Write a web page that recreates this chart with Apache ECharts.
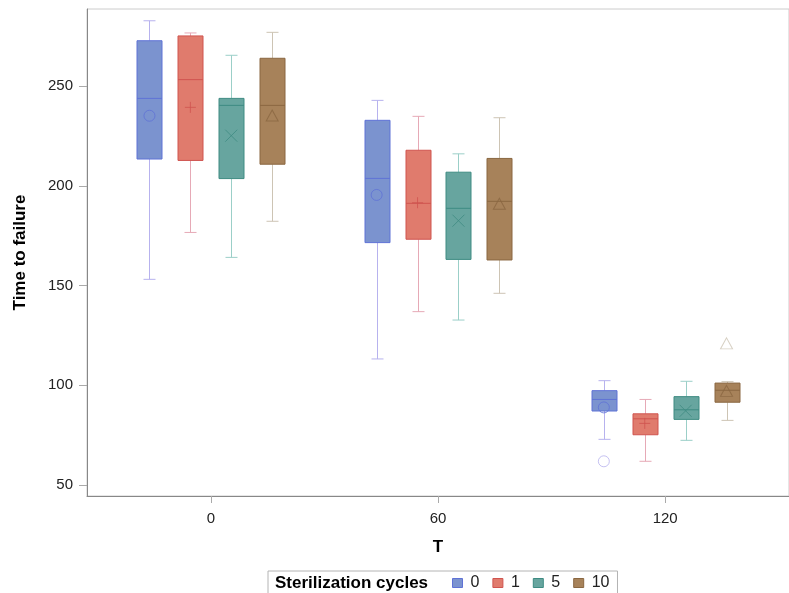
<!DOCTYPE html>
<html>
<head>
<meta charset="utf-8">
<script src="https://cdn.jsdelivr.net/npm/echarts@6/dist/echarts.min.js"></script>
<style>
html,body{margin:0;padding:0;background:#fff;}
#chart{width:789px;height:593px;}
</style>
</head>
<body>
<div id="chart"></div>
<script>
// ---- data ----
const categories = ['0', '60', '120'];          // T
const cycles = ['0', '1', '5', '10'];           // Sterilization cycles
const yTicks = [50, 100, 150, 200, 250];

// [min, Q1, median, Q3, max] per T for each cycle
const stats0  = [[153.1, 213.4, 243.8, 272.7, 282.7], [113.2, 171.5, 203.7, 232.8, 242.8], [72.9, 87.1, 92.9, 97.3, 102.3]];
const stats1  = [[176.6, 212.7, 253.2, 275.1, 276.6], [136.9, 173.2, 191.2, 217.8, 234.8], [61.9, 75.2, 83.2, 85.7, 92.9]];
const stats5  = [[164.1, 203.6, 240.3, 243.8, 265.4], [132.7, 163.1, 188.7, 206.8, 216.0], [72.4, 82.9, 87.7, 94.3, 102.0]];
const stats10 = [[182.2, 210.8, 240.3, 263.9, 276.9], [146.1, 162.8, 192.2, 213.7, 234.1], [82.4, 91.5, 97.5, 101.1, 101.8]];

const means0  = [235.1, 195.4, 88.9];
const means1  = [239.3, 191.5, 80.9];
const means5  = [225.1, 182.5, 87.2];
const means10 = [235.2, 191.0, 97.2];

// outliers: [category index, value]
const outliers0  = [[2, 61.9]];
const outliers1  = [];
const outliers5  = [];
const outliers10 = [[2, 121.0]];

// ---- styling ----
const allStats = [stats0, stats1, stats5, stats10];
const allMeans = [means0, means1, means5, means10];
const allOutliers = [outliers0, outliers1, outliers5, outliers10];
const fills    = ['#7b93cf', '#e07b6d', '#67a59f', '#a7825a'];
const lines    = ['#5f72d6', '#d0544f', '#3e8b82', '#8a6741'];
const whiskers = ['#b7b2ee', '#e6a9b6', '#9bcfc8', '#cdc4b4'];
const symbols  = ['circle', 'path://M5,0L5,10M0,5L10,5', 'path://M0,0L10,10M10,0L0,10', 'triangle'];
const symSizes = [11, 11, 12, [12, 11]];
const BOX_W = 25, CAP_W = 12, SPACING = 40.9;
const FONT = 'Arial, "Liberation Sans", Helvetica, sans-serif';

function offsetOf(k) { return (k - 1.5) * SPACING; }

function makeRender(k) {
  return function (params, api) {
    const i = api.value(0);
    const off = offsetOf(k);
    const cx = Math.round(api.coord([i, api.value(3)])[0] + off) + 0.5;
    const y = j => api.coord([i, api.value(j)])[1];
    const yMin = y(1), yQ1 = y(2), yMed = y(3), yQ3 = y(4), yMax = y(5);
    const hw = BOX_W / 2, cw = CAP_W / 2;
    const ws = { stroke: whiskers[k], lineWidth: 1 };
    return {
      type: 'group',
      children: [
        { type: 'line', shape: { x1: cx, y1: yQ3, x2: cx, y2: yMax }, style: ws },
        { type: 'line', shape: { x1: cx - cw, y1: yMax, x2: cx + cw, y2: yMax }, style: ws },
        { type: 'line', shape: { x1: cx, y1: yQ1, x2: cx, y2: yMin }, style: ws },
        { type: 'line', shape: { x1: cx - cw, y1: yMin, x2: cx + cw, y2: yMin }, style: ws },
        { type: 'rect', shape: { x: cx - hw, y: yQ3, width: BOX_W, height: yQ1 - yQ3 },
          style: { fill: fills[k], stroke: lines[k], lineWidth: 1 } },
        { type: 'line', shape: { x1: cx - hw, y1: yMed, x2: cx + hw, y2: yMed },
          style: { stroke: lines[k], lineWidth: 1 } }
      ]
    };
  };
}

const series = [];
cycles.forEach((name, k) => {
  series.push({
    name: name,
    type: 'custom',
    renderItem: makeRender(k),
    encode: { x: 0, y: [1, 2, 3, 4, 5] },
    itemStyle: { color: fills[k] },
    data: allStats[k].map((s, i) => [i].concat(s)),
    z: 2
  });
  series.push({
    name: name,
    type: 'scatter',
    symbol: symbols[k],
    symbolSize: symSizes[k],
    symbolOffset: [offsetOf(k), 0],
    itemStyle: { color: 'rgba(0,0,0,0)', borderColor: lines[k], borderWidth: 1 },
    emphasis: { disabled: true },
    data: allMeans[k].map((m, i) => [i, m]),
    z: 5
  });
  if (allOutliers[k].length) {
    series.push({
      name: name,
      type: 'scatter',
      symbol: symbols[k],
      symbolSize: symSizes[k],
      symbolOffset: [offsetOf(k), 0],
      itemStyle: { color: 'rgba(0,0,0,0)', borderColor: whiskers[k], borderWidth: 1 },
      emphasis: { disabled: true },
      data: allOutliers[k],
      z: 5
    });
  }
});

const chart = echarts.init(document.getElementById('chart'), null, { renderer: 'canvas' });
chart.setOption({
  animation: false,
  color: fills,
  textStyle: { fontFamily: FONT },
  title: {
    text: 'Sterilization cycles',
    left: 275, top: 575, padding: 0,
    textStyle: { fontFamily: FONT, fontSize: 17, fontWeight: 'bold', color: '#000' }
  },
  legend: {
    left: 268, top: 571,
    orient: 'horizontal',
    padding: [4, 8, 6, 184],
    borderColor: '#b4b4b4', borderWidth: 1,
    itemWidth: 10, itemHeight: 9, itemGap: 13,
    textStyle: { fontFamily: FONT, fontSize: 16, color: '#222', padding: [0, 0, 0, 3] },
    data: cycles.map((c, k) => ({ name: c, icon: 'rect', itemStyle: { color: fills[k], borderColor: lines[k], borderWidth: 1 } }))
  },
  grid: {
    left: 87, top: 9, width: 713, height: 487,
    show: true, borderColor: '#cccccc', borderWidth: 1,
    containLabel: false
  },
  xAxis: {
    type: 'value',
    min: -0.545, max: 2.545,
    name: 'T', nameLocation: 'middle', nameGap: 43,
    nameTextStyle: { fontFamily: FONT, fontSize: 17, fontWeight: 'bold', color: '#000' },
    axisLine: { show: true, onZero: false, lineStyle: { color: '#888' } },
    axisTick: { show: true, length: 7, lineStyle: { color: '#aaa' }, customValues: [0, 1, 2] },
    axisLabel: { customValues: [0, 1, 2], margin: 15, fontFamily: FONT, fontSize: 15, color: '#222',
      formatter: v => categories[Math.round(v)] },
    splitLine: { show: false }
  },
  yAxis: {
    type: 'value',
    min: 44.5, max: 288.6,
    name: 'Time to failure', nameLocation: 'middle', nameGap: 58, nameRotate: 90,
    nameTextStyle: { fontFamily: FONT, fontSize: 17, fontWeight: 'bold', color: '#000' },
    axisLine: { show: true, onZero: false, lineStyle: { color: '#888' } },
    axisTick: { show: true, length: 8, lineStyle: { color: '#aaa' }, customValues: yTicks },
    axisLabel: { customValues: yTicks, margin: 14, fontFamily: FONT, fontSize: 15, color: '#222' },
    splitLine: { show: false }
  },
  series: series
});
</script>
</body>
</html>
